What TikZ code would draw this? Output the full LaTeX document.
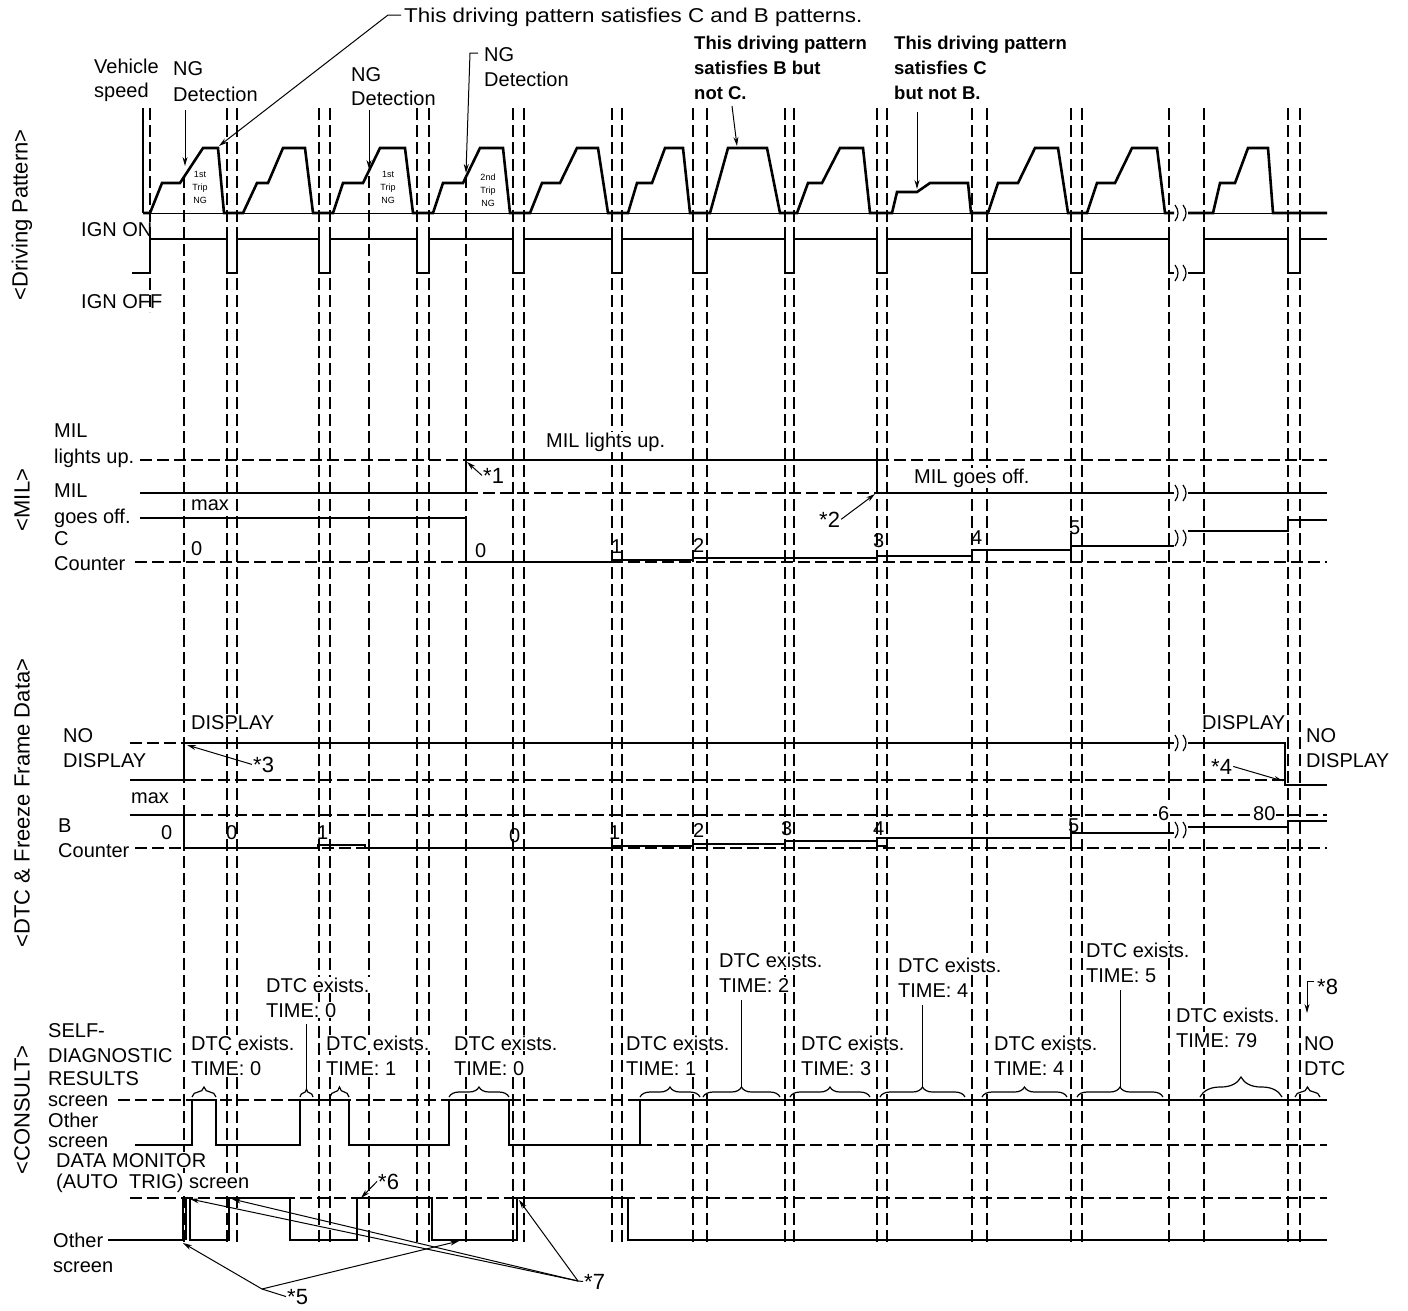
\documentclass[tikz,border=0pt]{standalone}
\usepackage{fontspec}
\usepackage{graphicx}
\setmainfont{Liberation Sans}
\usetikzlibrary{decorations.pathreplacing,arrows.meta}
\newcommand{\brkmk}[2]{%
  \draw[line width=1.2pt] (#1-5,#2-8) .. controls (#1-1,#2-3) and (#1-1,#2+3) .. (#1-5,#2+8);
  \draw[line width=1.2pt] (#1+3,#2-8) .. controls (#1+7,#2-3) and (#1+7,#2+3) .. (#1+3,#2+8);}
\begin{document}
\begin{tikzpicture}[x=1pt,y=-1pt,
 sig/.style={line width=2.6pt,line join=miter},
 vd/.style={line width=1.2pt,dash pattern=on 12pt off 5pt},
 hd/.style={line width=1.2pt,dash pattern=on 12pt off 5pt},
 lb/.style={font=\fontsize{20}{25}\selectfont,inner sep=1pt,anchor=base west,fill=white},
 lbn/.style={font=\fontsize{20}{25}\selectfont,inner sep=1pt,anchor=base west},
 bl/.style={font=\bfseries\fontsize{18.5}{25}\selectfont,inner sep=1pt,anchor=base west},
 st/.style={font=\fontsize{22}{22}\selectfont,inner sep=1pt,anchor=base west},
 tn/.style={font=\fontsize{9}{13}\selectfont,inner sep=0pt,align=center},
 sd/.style={font=\fontsize{22}{22}\selectfont,rotate=90,inner sep=0pt},
 ld/.style={line width=1pt,-{Stealth[length=9pt,width=5pt]}},
 ln/.style={line width=1pt},
 br/.style={line width=1.2pt,decorate,decoration={brace,amplitude=10pt}},
]
\useasboundingbox (0,0) rectangle (1408,1310);
\fill[white] (0,0) rectangle (1408,1310);

% ---------- vertical dashed time lines ----------
\foreach \x in {227,237,319,330,417,429,513,524,612,622,693,707,785,794,877,887,972,987,1071,1082,1169,1204,1288,1300}
  \draw[vd] (\x,108) -- (\x,1242);
\foreach \x in {184,369,466}
  \draw[vd] (\x,176) -- (\x,1242);
\draw[vd] (150,108) -- (150,312);

% ---------- driving pattern ----------
\draw[line width=1.5pt] (143,108) -- (143,213);
\draw[line width=0.9pt] (143,213) -- (1174,213);
\draw[line width=0.9pt] (1188,213) -- (1327,213);
\draw[sig] (143,213) -- (150,213) -- (162,183) -- (180,183) -- (203,148) -- (218,148) -- (224,213)
 -- (243,213) -- (257,183) -- (268,183) -- (283,148) -- (305,148) -- (313,213)
 -- (333,213) -- (343,183) -- (363,183) -- (380,148) -- (405,148) -- (413,213)
 -- (433,213) -- (443,183) -- (463,183) -- (480,148) -- (503,148) -- (510,213)
 -- (530,213) -- (542,183) -- (560,183) -- (577,148) -- (598,148) -- (608,213)
 -- (628,213) -- (637,183) -- (652,183) -- (665,148) -- (683,148) -- (690,213)
 -- (710,213) -- (728,148) -- (767,148) -- (780,213)
 -- (797,213) -- (808,183) -- (822,183) -- (840,148) -- (863,148) -- (870,213)
 -- (892,213) -- (897,192) -- (917,192) -- (930,183) -- (968,183) -- (971,213)
 -- (988,213) -- (998,183) -- (1018,183) -- (1035,148) -- (1058,148) -- (1068,213)
 -- (1087,213) -- (1097,183) -- (1115,183) -- (1132,148) -- (1157,148) -- (1165,213) -- (1174,213);
\draw[sig] (1188,213) -- (1213,213) -- (1220,183) -- (1235,183) -- (1248,148) -- (1268,148) -- (1273,213) -- (1327,213);
\brkmk{1180}{213}

% IGN
\draw[sig] (132,273) -- (150,273) -- (150,239) -- (227,239) -- (227,273) -- (237,273) -- (237,239)
 -- (319,239) -- (319,273) -- (330,273) -- (330,239) -- (417,239) -- (417,273) -- (429,273) -- (429,239)
 -- (513,239) -- (513,273) -- (524,273) -- (524,239) -- (612,239) -- (612,273) -- (622,273) -- (622,239)
 -- (693,239) -- (693,273) -- (707,273) -- (707,239) -- (785,239) -- (785,273) -- (794,273) -- (794,239)
 -- (877,239) -- (877,273) -- (887,273) -- (887,239) -- (972,239) -- (972,273) -- (987,273) -- (987,239)
 -- (1071,239) -- (1071,273) -- (1082,273) -- (1082,239) -- (1169,239) -- (1169,273) -- (1174,273);
\draw[sig] (1188,273) -- (1204,273) -- (1204,239) -- (1288,239) -- (1288,273) -- (1300,273) -- (1300,239) -- (1327,239);
\brkmk{1180}{273}

\node[tn] (tr1) at (200,187) {1st\\Trip\\NG};
\node[tn] (tr3) at (388,187) {1st\\Trip\\NG};
\node[tn] (tr4) at (488,190) {2nd\\Trip\\NG};

% ---------- MIL ----------
\draw[hd] (140,460) -- (466,460);
\draw[hd] (877,460) -- (1327,460);
\draw[hd] (466,493) -- (877,493);
\draw[hd] (135,562) -- (1327,562);
\draw[sig] (140,493) -- (466,493) -- (466,460) -- (877,460) -- (877,493) -- (1174,493);
\draw[sig] (1188,493) -- (1327,493);
\brkmk{1180}{493}
\draw[sig] (140,518) -- (466,518) -- (466,562) -- (612,562) -- (612,560) -- (693,560) -- (693,558)
 -- (877,558) -- (877,556) -- (972,556) -- (972,550) -- (1071,550) -- (1071,546) -- (1174,546);
\draw[sig] (1188,531) -- (1288,531) -- (1288,520) -- (1327,520);
\brkmk{1180}{538}

% ---------- DTC & freeze frame ----------
\draw[hd] (130,743) -- (184,743);
\draw[hd] (184,780) -- (1285,780);
\draw[sig] (130,780) -- (184,780) -- (184,743) -- (1174,743);
\draw[sig] (1188,743) -- (1285,743) -- (1285,785) -- (1327,785);
\brkmk{1180}{743}
\draw[hd] (184,815) -- (1327,815);
\draw[hd] (135,848) -- (1327,848);
\draw[sig] (130,815) -- (184,815) -- (184,848) -- (318,848) -- (318,845) -- (365,845) -- (365,848)
 -- (612,848) -- (612,846) -- (693,846) -- (693,844) -- (785,844) -- (785,841) -- (877,841) -- (877,838)
 -- (1071,838) -- (1071,833) -- (1174,833);
\draw[line width=1.2pt] (877,838) rectangle (887,846);
\draw[sig] (1188,827) -- (1288,827) -- (1288,821) -- (1327,821);
\brkmk{1180}{830}

% ---------- CONSULT ----------
\draw[hd] (118,1100) -- (1327,1100);
\draw[hd] (640,1145) -- (1327,1145);
\draw[sig] (135,1145) -- (192,1145) -- (192,1100) -- (216,1100) -- (216,1145) -- (300,1145) -- (300,1100)
 -- (349,1100) -- (349,1145) -- (449,1145) -- (449,1100) -- (509,1100) -- (509,1145) -- (640,1145)
 -- (640,1100) -- (1327,1100);
\draw[hd] (130,1198) -- (1327,1198);
\draw[sig] (108,1240) -- (183,1240) -- (183,1198) -- (190,1198) -- (190,1240) -- (229,1240) -- (229,1198)
 -- (290,1198) -- (290,1240) -- (357,1240) -- (357,1198) -- (432,1198) -- (432,1240) -- (517,1240)
 -- (517,1198) -- (628,1198) -- (628,1240) -- (1327,1240);
\draw[line width=1.2pt] (186,1198) -- (186,1240);

% braces
\foreach \a/\b in {192/216,330/349,449/509,640/700,703/780,790/870,880/965,982/1067,1077/1163,1295/1320}
  \draw[br] (\a,1097) -- (\b,1097);
\draw[br,decoration={brace,amplitude=8pt}] (300,1097) -- (313,1097);
\draw[br,decoration={brace,amplitude=20pt}] (1200,1097) -- (1282,1097);
\draw[ln] (306.5,1089) -- (306.5,1024);
\draw[ln] (741.5,1087) -- (741.5,1000);
\draw[ln] (922.5,1087) -- (922.5,1005);
\draw[ln] (1120,1087) -- (1120,990);

% ---------- labels ----------
\node[sd] (sdp) at (22,215) {\textless Driving Pattern\textgreater};
\node[sd] (smil) at (22,500) {\textless MIL\textgreater};
\node[sd] (sdtc) at (22,803) {\textless DTC \& Freeze Frame Data\textgreater};
\node[sd] (scon) at (22,1110) {\textless CONSULT\textgreater};

\node[lb] (ttop) at (403,22) {\scalebox{1.12}[1]{This driving pattern satisfies C and B patterns.}};
\node[lb] (vs1) at (93,73) {Vehicle};
\node[lb] (vs2) at (93,97) {speed};
\node[lb] (ng1a) at (172,75) {NG};
\node[lb] (ng1b) at (172,101) {Detection};
\node[lb] (ng2a) at (350,81) {NG};
\node[lb] (ng2b) at (350,105) {Detection};
\node[lb] (ng3a) at (483,61) {NG};
\node[lb] (ng3b) at (483,86) {Detection};
\node[bl] (bc1) at (693,49) {This driving pattern};
\node[bl] (bc2) at (693,74) {satisfies B but};
\node[bl] (bc3) at (693,99) {not C.};
\node[bl] (cb1) at (893,49) {This driving pattern};
\node[bl] (cb2) at (893,74) {satisfies C};
\node[bl] (cb3) at (893,99) {but not B.};
\node[lbn] (ignon) at (80,236) {IGN ON};
\node[lbn] (ignoff) at (80,308) {IGN OFF};

\node[lb] (mil1) at (53,437) {MIL};
\node[lb] (mil2) at (53,463) {lights up.};
\node[lb] (mil3) at (53,497) {MIL};
\node[lb] (mil4) at (53,523) {goes off.};
\node[lb] (cc1) at (53,545) {C};
\node[lb] (cc2) at (53,570) {Counter};
\node[lb] (mlu) at (545,447) {MIL lights up.};
\node[lb] (mgo) at (913,483) {MIL goes off.};
\node[lb] (cmax) at (190,510) {max};
\node[lbn] (c0a) at (190,555) {0};
\node[lbn] (c0b) at (474,557) {0};
\node[lbn] (c1) at (610,553) {1};
\node[lbn] (c2) at (692,552) {2};
\node[lbn] (c3) at (872,547) {3};
\node[lbn] (c4) at (970,544) {4};
\node[lbn] (c5) at (1068,534) {5};
\node[st] (s1) at (482,483) {*1};
\node[st] (s2) at (818,527) {*2};

\node[lb] (dd1) at (190,729) {DISPLAY};
\node[lb] (nd1) at (62,742) {NO};
\node[lb] (nd2) at (62,767) {DISPLAY};
\node[st] (s3) at (252,772) {*3};
\node[lb] (dd2) at (1201,729) {DISPLAY};
\node[lb] (nd3) at (1305,742) {NO};
\node[lb] (nd4) at (1305,767) {DISPLAY};
\node[st] (s4) at (1210,774) {*4};
\node[lb] (bmax) at (130,803) {max};
\node[lb] (bb1) at (57,832) {B};
\node[lb] (bb2) at (57,857) {Counter};
\node[lbn] (b0a) at (160,839) {0};
\node[lbn] (b0b) at (225,839) {0};
\node[lbn] (b1a) at (316,839) {1};
\node[lbn] (b0c) at (508,842) {0};
\node[lbn] (b1b) at (608,839) {1};
\node[lbn] (b2) at (692,837) {2};
\node[lbn] (b3) at (780,835) {3};
\node[lbn] (b4) at (872,835) {4};
\node[lbn] (b5) at (1067,832) {5};
\node[lb] (b6) at (1157,820) {6};
\node[lb] (b80) at (1252,820) {80};

\node[lb] (sd1) at (47,1037) {SELF-};
\node[lb] (sd2) at (47,1062) {DIAGNOSTIC};
\node[lb] (sd3) at (47,1085) {RESULTS};
\node[lb] (sd4) at (47,1106) {screen};
\node[lb] (os1) at (47,1127) {Other};
\node[lb] (os2) at (47,1147) {screen};
\node[lb] (dm1) at (55,1167) {DATA MONITOR};
\node[lb] (dm2) at (55,1188) {(AUTO\ \ TRIG) screen};
\node[lb] (os3) at (52,1247) {Other};
\node[lb] (os4) at (52,1272) {screen};

\node[lb] (e1a) at (190,1050) {DTC exists.};
\node[lb] (e1b) at (190,1075) {TIME: 0};
\node[lb] (e2a) at (265,992) {DTC exists.};
\node[lb] (e2b) at (265,1017) {TIME: 0};
\node[lb] (e3a) at (325,1050) {DTC exists.};
\node[lb] (e3b) at (325,1075) {TIME: 1};
\node[lb] (e4a) at (453,1050) {DTC exists.};
\node[lb] (e4b) at (453,1075) {TIME: 0};
\node[lb] (e5a) at (625,1050) {DTC exists.};
\node[lb] (e5b) at (625,1075) {TIME: 1};
\node[lb] (e6a) at (718,967) {DTC exists.};
\node[lb] (e6b) at (718,992) {TIME: 2};
\node[lb] (e7a) at (800,1050) {DTC exists.};
\node[lb] (e7b) at (800,1075) {TIME: 3};
\node[lb] (e8a) at (897,972) {DTC exists.};
\node[lb] (e8b) at (897,997) {TIME: 4};
\node[lb] (e9a) at (993,1050) {DTC exists.};
\node[lb] (e9b) at (993,1075) {TIME: 4};
\node[lb] (e10a) at (1085,957) {DTC exists.};
\node[lb] (e10b) at (1085,982) {TIME: 5};
\node[lb] (e11a) at (1175,1022) {DTC exists.};
\node[lb] (e11b) at (1175,1047) {TIME: 79};
\node[lb] (e12a) at (1303,1050) {NO};
\node[lb] (e12b) at (1303,1075) {DTC};
\node[st] (s5) at (286,1304) {*5};
\node[st] (s6) at (377,1189) {*6};
\node[st] (s7) at (583,1289) {*7};
\node[st] (s8) at (1316,994) {*8};

% ---------- leaders ----------
\coordinate (tA) at (401,15); \coordinate (tB) at (388,15); \coordinate (tC) at (219,146);
\draw[ld] (tA) -- (tB) -- (tC);
\coordinate (n1s) at (185,110); \coordinate (n1e) at (185,166);
\draw[ld] (n1s) -- (n1e);
\coordinate (n2s) at (369,110); \coordinate (n2e) at (369,169);
\draw[ld] (n2s) -- (n2e);
\coordinate (n3a) at (478,53); \coordinate (n3b) at (470,53); \coordinate (n3e) at (466,173);
\draw[ld] (n3a) -- (n3b) -- (n3e);
\coordinate (bcS) at (732,106); \coordinate (bcE) at (737,146);
\draw[ld] (bcS) -- (bcE);
\coordinate (cbS) at (917,112); \coordinate (cbE) at (917,189);
\draw[ld] (cbS) -- (cbE);
\coordinate (m1) at (467,462); \draw[ld] (s1.west) -- (m1);
\coordinate (m2) at (875,494); \draw[ld] (s2.east) -- (m2);
\coordinate (m3) at (187,745); \draw[ld] (s3.west) -- (m3);
\coordinate (m4) at (1283,781); \draw[ld] (s4.east) -- (m4);
\coordinate (m6) at (361,1198); \draw[ld] (s6.west) -- (m6);
\coordinate (m8a) at (1314,981); \coordinate (m8b) at (1307,981); \coordinate (m8e) at (1307,1013);
\draw[ld] (m8a) -- (m8b) -- (m8e);
\coordinate (j5) at (262,1289);
\coordinate (t5a) at (183,1243); \coordinate (t5b) at (459,1241);
\draw[ln] (s5.west) -- (j5);
\draw[ld] (j5) -- (t5a);
\draw[ld] (j5) -- (t5b);
\coordinate (j7) at (578,1281);
\coordinate (t7a) at (190,1199); \coordinate (t7b) at (232,1199); \coordinate (t7c) at (519,1200);
\draw[ln] (s7.west) -- (j7);
\draw[ld] (j7) -- (t7a);
\draw[ld] (j7) -- (t7b);
\draw[ld] (j7) -- (t7c);
\end{tikzpicture}
\end{document}
